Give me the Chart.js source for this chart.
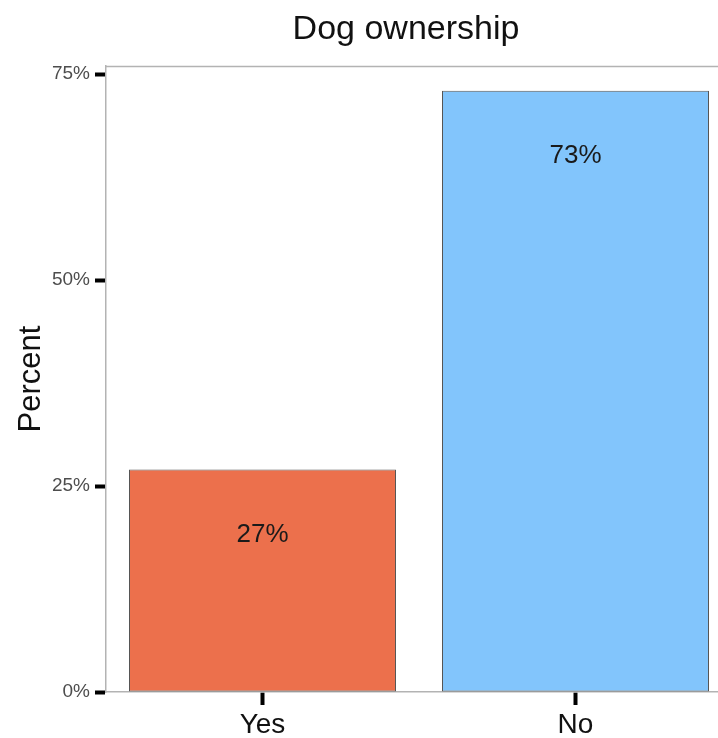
<!DOCTYPE html>
<html>
<head>
<meta charset="utf-8">
<script src="https://cdn.jsdelivr.net/npm/chart.js@4.4.0/dist/chart.umd.min.js"></script>
<style>
  html, body { margin: 0; padding: 0; background: #fff; overflow: hidden; }
  #wrap { width: 734px; height: 738px; }
</style>
</head>
<body>
<div id="wrap"><canvas id="myChart"></canvas></div>
<script>
'use strict'
var categories = ['Yes', 'No'];
var percents = [27, 73];
var barLabels = ['27%', '73%'];
var yTicks = [0, 25, 50, 75];
var barColors = ['#ec704c', '#82c5fc'];
var chartTitle = 'Dog ownership';
var yTitle = 'Percent';

var fontName = '"Liberation Sans", Arial, sans-serif';

// title + frame + labels in the bars
var extras = {
    id: 'extras',
    afterDatasetsDraw: function (chart) {
        var ctx = chart.ctx;
        var a = chart.chartArea;
        ctx.save();
        // thin grey top border
        ctx.strokeStyle = '#b3b3b3';
        ctx.lineWidth = 1.5;
        ctx.beginPath();
        ctx.moveTo(a.left, a.top + 0.5);
        ctx.lineTo(a.right, a.top + 0.5);
        ctx.stroke();

        ctx.fillStyle = '#111';
        ctx.font = '34px ' + fontName;
        ctx.textAlign = 'center';
        ctx.textBaseline = 'alphabetic';
        ctx.fillText(chartTitle, 406, 39);

        var meta = chart.getDatasetMeta(0);
        ctx.font = '26px ' + fontName;
        ctx.fillStyle = '#1a1a1a';
        ctx.textBaseline = 'middle';
        meta.data.forEach(function (bar, i) {
            ctx.fillText(barLabels[i], bar.x, bar.y + 65);
        });
        ctx.restore();
    }
};

var ctx = document.getElementById('myChart').getContext('2d');
var chart = new Chart(ctx, {
    type: 'bar',
    data: {
        labels: categories,
        datasets: [{
            data: percents,
            backgroundColor: barColors,
            borderColor: '#555555',
            borderWidth: 1,
            borderSkipped: false,
            barPercentage: 0.853,
            categoryPercentage: 1
        }]
    },
    options: {
        responsive: true,
        maintainAspectRatio: false,
        animation: false,
        layout: { padding: { top: 66, right: 2, left: 0, bottom: 0 } },
        plugins: {
            legend: { display: false },
            title: { display: false },
            tooltip: { enabled: false }
        },
        scales: {
            x: {
                offset: true,
                grid: {
                    offset: false,
                    drawOnChartArea: false,
                    drawTicks: true,
                    tickLength: 13,
                    tickWidth: 4,
                    tickColor: '#000'
                },
                border: { display: true, color: '#b3b3b3', width: 1.5 },
                ticks: {
                    color: '#111',
                    padding: 3,
                    font: { family: fontName, size: 28 }
                },
                afterFit: function (scale) { scale.height = 46; }
            },
            y: {
                min: 0,
                max: 76,
                grid: {
                    drawOnChartArea: false,
                    drawTicks: true,
                    tickLength: 11,
                    tickWidth: 4,
                    tickColor: '#000'
                },
                border: { display: true, color: '#b3b3b3', width: 1.5 },
                afterBuildTicks: function (scale) {
                    scale.ticks = yTicks.map(function (v) { return { value: v }; });
                },
                ticks: {
                    color: '#4d4d4d',
                    padding: 5,
                    font: { family: fontName, size: 19 },
                    callback: function (v) { return v + '%'; }
                },
                title: {
                    display: true,
                    text: yTitle,
                    color: '#111',
                    padding: { top: 13, bottom: 0 },
                    font: { family: fontName, size: 31 }
                },
                afterFit: function (scale) { scale.width = 106; }
            }
        }
    },
    plugins: [extras]
});
</script>
</body>
</html>
